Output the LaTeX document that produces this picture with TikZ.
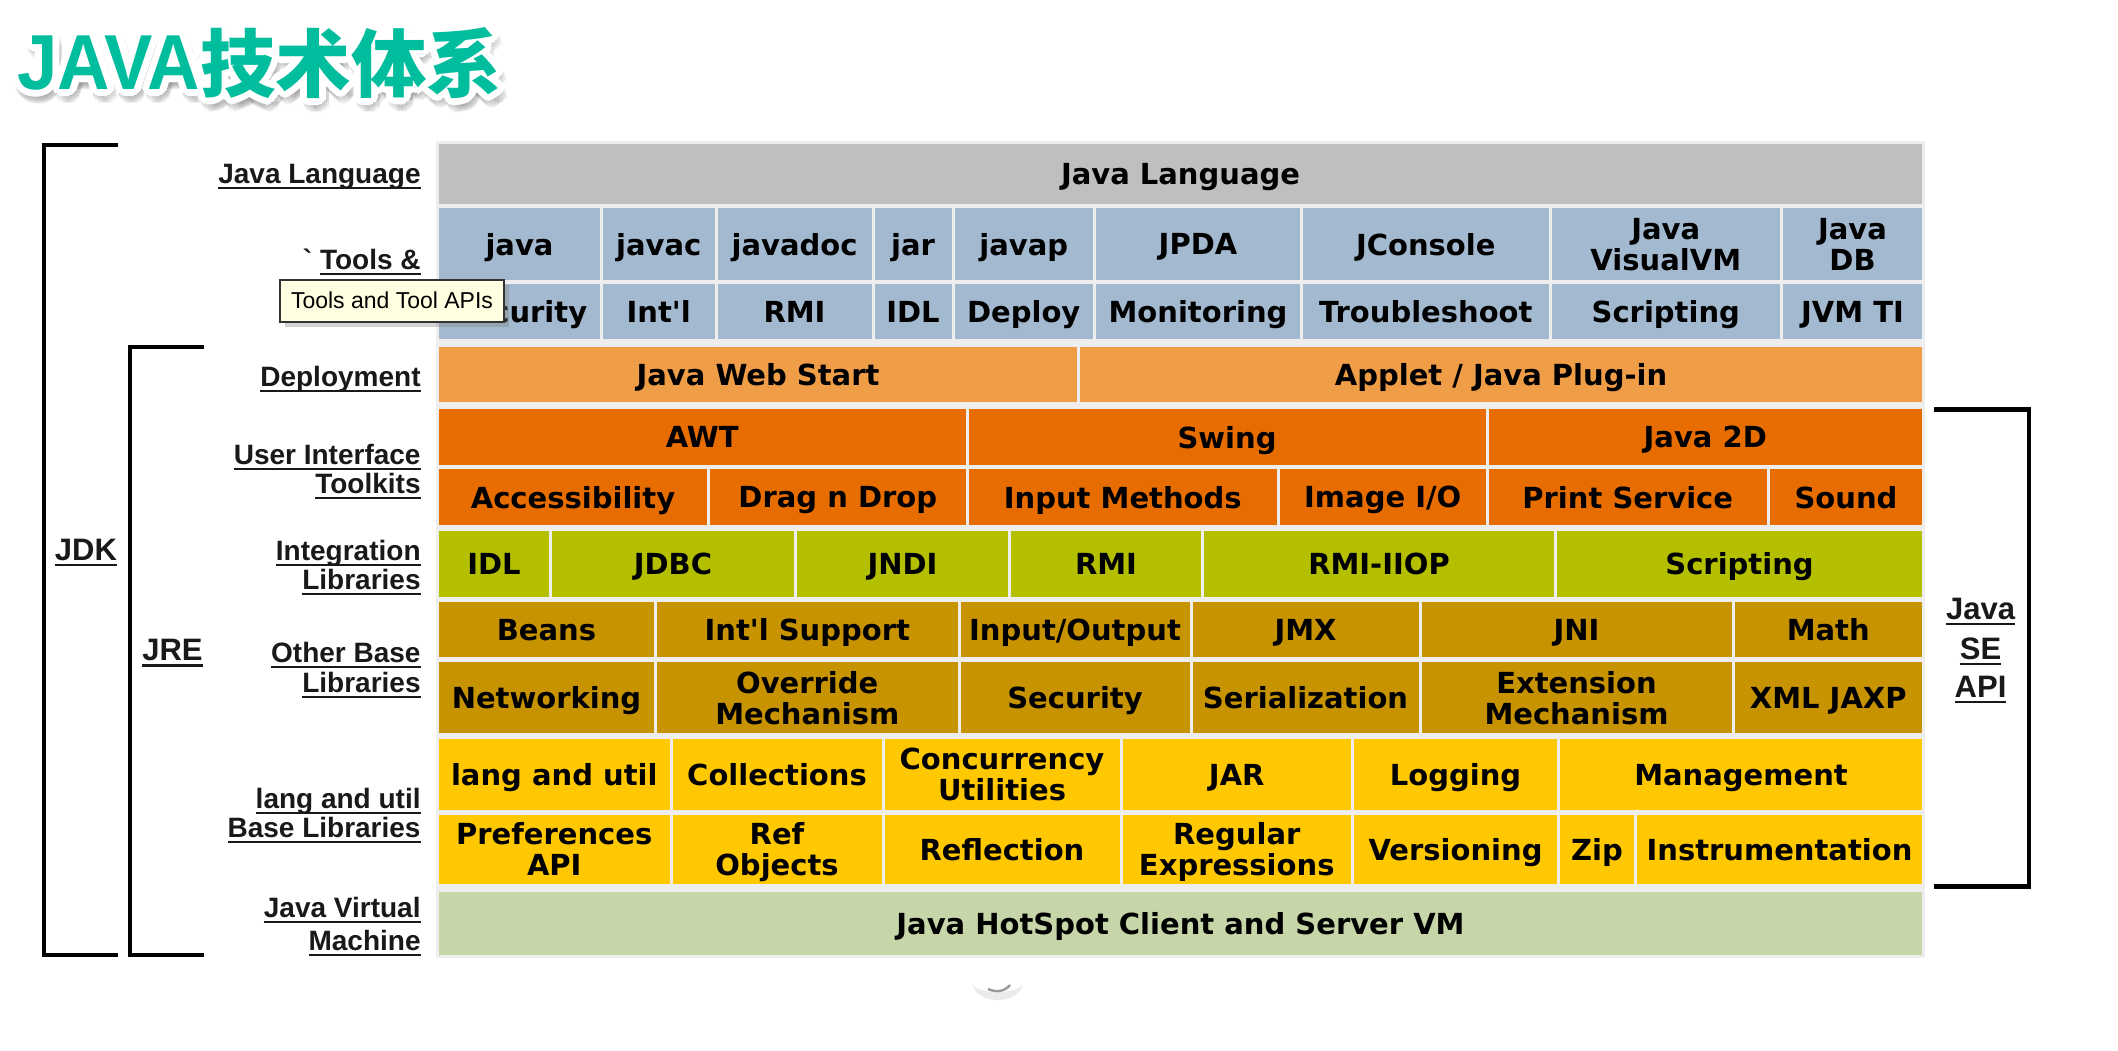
\documentclass[tikz,border=0pt]{standalone}
\usepackage{fontspec}
\newfontfamily\cellfont{DejaVu Sans}
\newfontfamily\labfont{Liberation Sans}
\newfontfamily\titlelat{Liberation Sans}[FakeStretch=0.93]
\newfontfamily\titlecjk{Noto Sans CJK SC}[FakeStretch=1.02]
\usetikzlibrary{shadows}

\definecolor{langgray}{HTML}{BEBFC1}
\definecolor{toolblue}{HTML}{A3B9CF}
\definecolor{deploy}{HTML}{EF9D46}
\definecolor{uiorange}{HTML}{E86D00}
\definecolor{integ}{HTML}{B4BF00}
\definecolor{otherbase}{HTML}{C79300}
\definecolor{langutil}{HTML}{FFC800}
\definecolor{jvmgreen}{HTML}{C6D6A8}
\definecolor{tablebg}{HTML}{EEEEEE}
\definecolor{tipyellow}{HTML}{FFFFE1}
\definecolor{titleteal}{HTML}{00BD9D}

\newcommand{\undl}[1]{\leavevmode\setbox0\hbox{#1}\rlap{\vrule height -1.8pt depth 3.2pt width \wd0}\box0}
\newcommand{\titletext}{{\titlelat\bfseries\fontsize{39}{39}\selectfont JAVA}{\titlecjk\bfseries\fontsize{37}{37}\selectfont\raisebox{-1pt}{技术体系}}}

\begin{document}
\begin{tikzpicture}[x=0.5pt,y=-0.5pt,
	cell/.style={inner sep=0pt,align=center,text=black,text depth=0pt,font=\cellfont\bfseries\fontsize{14.5}{15.5}\selectfont},
	lab/.style={inner sep=0pt,anchor=base east,text=black!90,font=\labfont\bfseries\fontsize{14}{15}\selectfont},
	side/.style={inner sep=0pt,anchor=base,text=black!90,font=\labfont\bfseries\fontsize{15.5}{16}\selectfont},
	bracket/.style={line width=2.2pt},
	ttl/.style={inner sep=0pt,anchor=base west},
	tip/.style={draw=black!80,line width=1pt,fill=tipyellow,inner sep=0pt,text depth=0pt,minimum width=112pt,minimum height=21pt,
		font=\labfont\fontsize{11.5}{12}\selectfont,drop shadow={shadow xshift=2.5pt,shadow yshift=-2.5pt,opacity=0.35}}]
		\fill[white] (0,0) rectangle (2118,1050);
		\useasboundingbox (0,0) rectangle (2118,1050);
		% Title
		\foreach \a [count=\i] in {0,22.5,...,337.5}
			\node[ttl,text=black,opacity=0.05,shift={({3+7*cos(\a)},{7+7*sin(\a)})}] (tshade\i) at (17,89) {\titletext};
		\foreach \a [count=\i] in {0,22.5,...,337.5}
			\node[ttl,text=white,shift={(\a:7)}] (twhite\i) at (17,89) {\titletext};
		\foreach \a [count=\i] in {0,45,...,315}
			\node[ttl,text=white,shift={(\a:3.5)}] (tinner\i) at (17,89) {\titletext};
		\node[ttl,text=titleteal] (title) at (17,89) {\titletext};
		% Table
		\fill[tablebg] (436,141) rectangle (1925,958);
		\node[cell,fill=langgray,minimum width=741.5pt,minimum height=30pt] (lang) at (1180.5,174) {Java Language};
		\foreach \a/\b/\t [count=\i] in {437.5/601.5/java,601.5/716/javac,716/873/javadoc,873/953/jar,953/1094.5/javap,
			1094.5/1301.5/JPDA,1301.5/1550/JConsole,1550/1781.5/{Java\\VisualVM},1781.5/1923.5/{Java\\DB}}
			\node[cell,fill=toolblue,minimum width={(\b-\a-3)*0.5pt},minimum height=36pt] (toolA\i) at ({(\a+\b)/2},244) {\t};
		\foreach \a/\b/\t [count=\i] in {437.5/601.5/Security,601.5/716/Int\textquotesingle l,716/873/RMI,873/953/IDL,953/1094.5/Deploy,
			1094.5/1301.5/Monitoring,1301.5/1550/Troubleshoot,1550/1781.5/Scripting,1781.5/1923.5/JVM TI}
			\node[cell,fill=toolblue,minimum width={(\b-\a-3)*0.5pt},minimum height=27.5pt] (toolB\i) at ({(\a+\b)/2},311.5) {\t};
		\foreach \a/\b/\t [count=\i] in {437.5/1078.5/Java Web Start,1078.5/1923.5/{Applet / Java Plug-in}}
			\node[cell,fill=deploy,minimum width={(\b-\a-3)*0.5pt},minimum height=27.75pt] (dep\i) at ({(\a+\b)/2},374.25) {\t};
		\foreach \a/\b/\t [count=\i] in {437.5/967/AWT,967/1487/Swing,1487/1923.5/Java 2D}
			\node[cell,fill=uiorange,minimum width={(\b-\a-3)*0.5pt},minimum height=28pt] (uiA\i) at ({(\a+\b)/2},437) {\t};
		\foreach \a/\b/\t [count=\i] in {437.5/708.5/Accessibility,708.5/967/Drag n Drop,967/1278.5/Input Methods,
			1278.5/1487/{Image I/O},1487/1768.5/Print Service,1768.5/1923.5/Sound}
			\node[cell,fill=uiorange,minimum width={(\b-\a-3)*0.5pt},minimum height=28pt] (uiB\i) at ({(\a+\b)/2},497) {\t};
		\foreach \a/\b/\t [count=\i] in {437.5/550.5/IDL,550.5/795.5/JDBC,795.5/1009.5/JNDI,1009.5/1202.5/RMI,
			1202.5/1555.5/RMI-IIOP,1555.5/1923.5/Scripting}
			\node[cell,fill=integ,minimum width={(\b-\a-3)*0.5pt},minimum height=32.75pt] (int\i) at ({(\a+\b)/2},563.75) {\t};
		\foreach \a/\b/\t [count=\i] in {437.5/655.5/Beans,655.5/959/Int\textquotesingle l Support,959/1191/{Input/Output},
			1191/1420/JMX,1420/1733/JNI,1733/1923.5/Math}
			\node[cell,fill=otherbase,minimum width={(\b-\a-3)*0.5pt},minimum height=27.5pt] (othA\i) at ({(\a+\b)/2},629.5) {\t};
		\foreach \a/\b/\t [count=\i] in {437.5/655.5/Networking,655.5/959/{Override\\Mechanism},959/1191/Security,
			1191/1420/Serialization,1420/1733/{Extension\\Mechanism},1733/1923.5/XML JAXP}
			\node[cell,fill=otherbase,minimum width={(\b-\a-3)*0.5pt},minimum height=35.5pt] (othB\i) at ({(\a+\b)/2},697.5) {\t};
		\foreach \a/\b/\t [count=\i] in {437.5/671/lang and util,671/883/Collections,883/1121/{Concurrency\\Utilities},
			1121/1352.5/JAR,1352.5/1558.5/Logging,1558.5/1923.5/Management}
			\node[cell,fill=langutil,minimum width={(\b-\a-3)*0.5pt},minimum height=35.5pt] (luA\i) at ({(\a+\b)/2},774.5) {\t};
		\foreach \a/\b/\t [count=\i] in {437.5/671/{Preferences\\API},671/883/{Ref\\Objects},883/1121/Reflection,
			1121/1352.5/{Regular\\Expressions},1352.5/1558.5/Versioning,1558.5/1635.5/Zip,1635.5/1923.5/Instrumentation}
			\node[cell,fill=langutil,minimum width={(\b-\a-3)*0.5pt},minimum height=34.75pt] (luB\i) at ({(\a+\b)/2},849.25) {\t};
		\node[cell,fill=jvmgreen,minimum width=741.5pt,minimum height=31.75pt] (jvm) at (1180.5,923.25) {Java HotSpot Client and Server VM};
		% Row labels
		\foreach \t/\y [count=\i] in {Java Language/183,Deployment/386,User Interface/464,Toolkits/493,Integration/560,Libraries/589,
			Other Base/662,Libraries/692,lang and util/808,Base Libraries/837,Java Virtual/917,Machine/950}
			\node[lab] (lab\i) at (421,\y) {\undl{\t}};
		\node[lab] (labtools) at (421,269) {\symbol{96} \undl{Tools \&}};
		% Brackets
		\draw[bracket] (118,145) -- (44,145) -- (44,955) -- (118,955);
		\draw[bracket] (204,347) -- (130,347) -- (130,955) -- (204,955);
		\draw[bracket] (1934,409.5) -- (2029,409.5) -- (2029,886.5) -- (1934,886.5);
		\node[side] (jdk) at (86,560) {\undl{JDK}};
		\node[side] (jre) at (172.5,660.5) {\undl{JRE}};
		\foreach \t/\y in {Java/619,SE/659,API/697}
			\node[side] (se\t) at (1980.5,\y) {\undl{\t}};
		% Tooltip
		\node[tip] (tip) at (392,300.5) {Tools and Tool APIs};
		% faint mark below the table
		\fill[black!8] (973,984) arc[start angle=180,end angle=0,x radius=24.5,y radius=16]
			arc[start angle=0,end angle=180,x radius=24.5,y radius=8] -- cycle;
		\draw[black!40,line width=1.2pt] (988,989) .. controls (997,993) and (1005,991) .. (1010,985);
	\end{tikzpicture}
\end{document}
